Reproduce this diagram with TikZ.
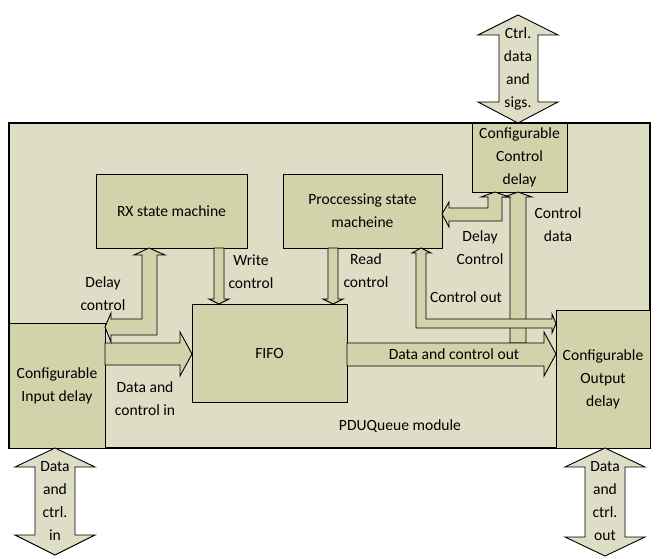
\documentclass[tikz,border=0pt]{standalone}
\usepackage{fontspec}
\setmainfont{Carlito}
\usepackage{tikz}
\usetikzlibrary{positioning}
\definecolor{modulebg}{RGB}{222,222,198}
\definecolor{blockbg}{RGB}{211,211,171}
\tikzset{
    module/.style = {rectangle, draw=black, line width=1.3pt, fill=modulebg},
    blockbox/.style = {rectangle, draw=black, line width=0.9pt, fill=blockbg, align=center, inner sep=0pt},
    fatarrow/.style = {draw=black, line width=0.9pt, fill=blockbg, line join=miter},
    portarrow/.style = {draw=black, line width=0.9pt, fill=modulebg, line join=miter},
    lbl/.style = {align=center, inner sep=0pt},
    every picture/.style={font issue=\fontsize{15.6}{23}},
    font issue/.style={execute at begin picture={#1\selectfont}
  }
}

\begin{document}
\begin{tikzpicture}[x=1pt,y=-1pt]
\useasboundingbox (0,0) rectangle (662,559);
%
\node[module, minimum width=641pt, minimum height=325pt] at (329.5,285.5) (pdu) {};
\node[lbl] at (400,426) (pdulbl) {PDUQueue module};
%
\node[blockbox, minimum width=95pt, minimum height=69pt] at (519.5,157.5) (ctrldelay) {Configurable\\Control\\delay};
\node[blockbox, minimum width=151pt, minimum height=74pt] at (171.5,211) (rx) {RX state machine};
\node[blockbox, minimum width=159pt, minimum height=74pt] at (362.5,211) (proc) {Proccessing state\\macheine};
\node[blockbox, minimum width=155pt, minimum height=98pt] at (269.5,353) (fifo) {FIFO};
\node[blockbox, minimum width=96pt, minimum height=125pt] at (57,385.5) (indelay) {Configurable\\Input delay};
\node[blockbox, minimum width=94pt, minimum height=138pt] at (603,379) (outdelay) {Configurable\\Output\\delay};
%
% ports
\draw[portarrow] (518,15) -- (558,35) -- (538,35) -- (538,102) -- (558,102) -- (518,123)
    -- (478,102) -- (499,102) -- (499,35) -- (478,35) -- cycle;
\draw[portarrow] (55,448) -- (95,467) -- (75,467) -- (75,535) -- (95,535) -- (55,555)
    -- (15,535) -- (35,535) -- (35,467) -- (15,467) -- cycle;
\draw[portarrow] (605,448) -- (645,467) -- (625,467) -- (625,537) -- (645,537) -- (605,556)
    -- (565,537) -- (585,537) -- (585,467) -- (565,467) -- cycle;
\node[lbl] at (518,68.5) (ctrlport) {Ctrl.\\data\\and\\sigs.};
\node[lbl] at (55,501) (inport) {Data\\and\\ctrl.\\in};
\node[lbl] at (605,501) (outport) {Data\\and\\ctrl.\\out};
%
% internal arrows
\draw[fatarrow] (518,192) -- (532,197) -- (526,197) -- (526,343) -- (510,343) -- (510,197) -- (504,197) -- cycle;
\draw[fatarrow] (421,248) -- (431,253) -- (426,253) -- (426,319) -- (552,319) -- (552,314) -- (556,323.5)
    -- (552,333) -- (552,328) -- (416,328) -- (416,253) -- (412,253) -- cycle;
\draw[fatarrow] (105,343) -- (180,343) -- (180,332) -- (192,354) -- (180,376) -- (180,365) -- (105,365) -- cycle;
\draw[fatarrow] (347,343) -- (544,343) -- (544,332) -- (556,354) -- (544,376) -- (544,366) -- (347,366) -- cycle;
\draw[fatarrow] (214,248) -- (224,248) -- (224,299) -- (229,299) -- (219,304) -- (209,299) -- (214,299) -- cycle;
\draw[fatarrow] (328,248) -- (338,248) -- (338,299) -- (343,299) -- (333,304) -- (323,299) -- (328,299) -- cycle;
\draw[fatarrow] (149,248) -- (165,255) -- (157,255) -- (157,335) -- (111,335) -- (111,342) -- (105,327)
    -- (111,313) -- (111,319) -- (142,319) -- (142,255) -- (134,255) -- cycle;
\draw[fatarrow] (495,192) -- (509,197) -- (502,197) -- (502,221) -- (449,221) -- (449,227) -- (442,214)
    -- (449,202) -- (449,208) -- (488,208) -- (488,197) -- (481,197) -- cycle;
%
\node[lbl] at (251,272) (writelbl) {Write\\control};
\node[lbl] at (366,271) (readlbl) {Read\\control};
\node[lbl] at (103,294) (dlylbl) {Delay\\control};
\node[lbl] at (480,248) (dlyctrllbl) {Delay\\Control};
\node[lbl] at (558,225) (ctrldatalbl) {Control\\data};
\node[lbl] at (466,297) (ctrloutlbl) {Control out};
\node[lbl] at (454,354) (dataoutlbl) {Data and control out};
\node[lbl] at (145,399) (datainlbl) {Data and\\control in};
\end{tikzpicture}
\end{document}
